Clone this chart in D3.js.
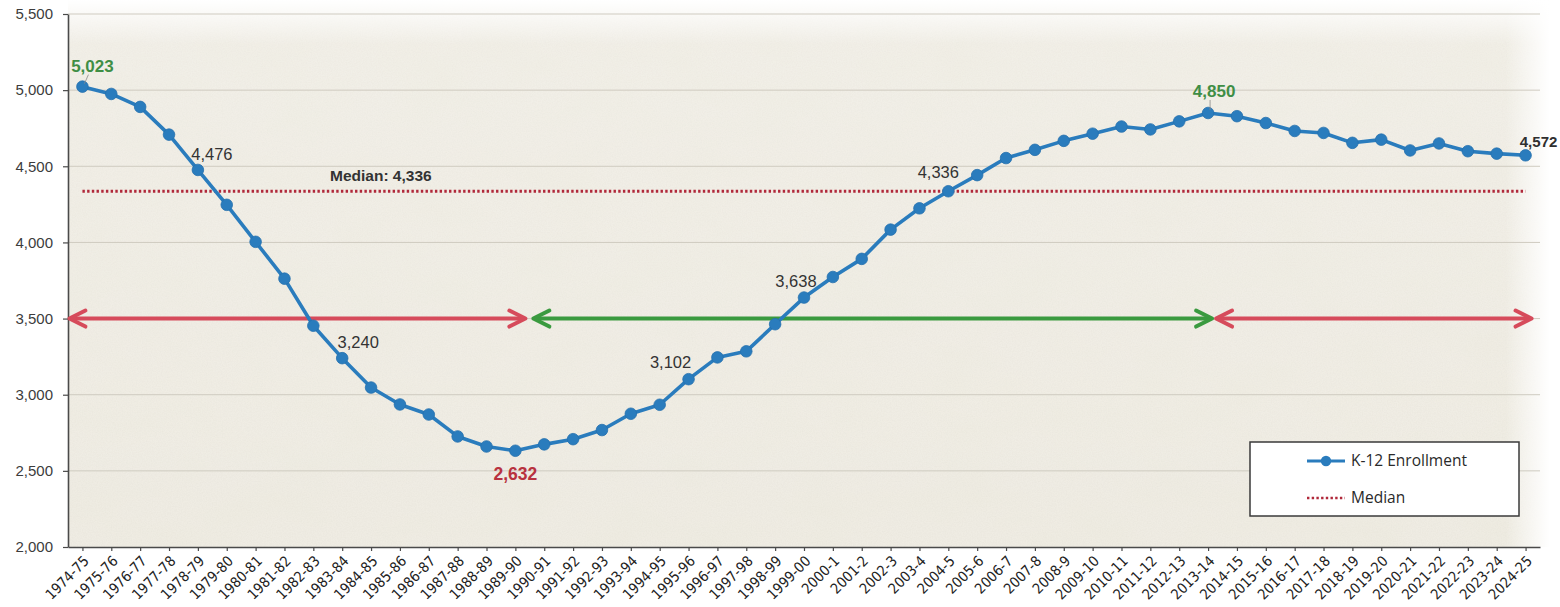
<!DOCTYPE html>
<html>
<head>
<meta charset="utf-8">
<script src="https://cdn.jsdelivr.net/npm/d3@7"></script>
<style>
  html, body { margin: 0; padding: 0; background: #ffffff; }
  svg { display: block; }
</style>
</head>
<body>
<svg id="chart" width="1560" height="607"></svg>
<script>
// School years on the category axis
const years = [
  "1974-75","1975-76","1976-77","1977-78","1978-79","1979-80","1980-81","1981-82",
  "1982-83","1983-84","1984-85","1985-86","1986-87","1987-88","1988-89","1989-90",
  "1990-91","1991-92","1992-93","1993-94","1994-95","1995-96","1996-97","1997-98",
  "1998-99","1999-00","2000-1","2001-2","2002-3","2003-4","2004-5","2005-6",
  "2006-7","2007-8","2008-9","2009-10","2010-11","2011-12","2012-13","2013-14",
  "2014-15","2015-16","2016-17","2017-18","2018-19","2019-20","2020-21","2021-22",
  "2022-23","2023-24","2024-25"
];

// K-12 enrollment for each school year
const enrollment = [
  5023, 4975, 4890, 4708, 4476, 4247, 4004, 3762,
  3453, 3240, 3047, 2936, 2870, 2726, 2660, 2632,
  2674, 2708, 2768, 2875, 2934, 3102, 3245, 3285,
  3463, 3638, 3773, 3892, 4084, 4224, 4336, 4442,
  4554, 4608, 4667, 4714, 4761, 4742, 4795, 4850,
  4829, 4784, 4732, 4719, 4654, 4675, 4604, 4650,
  4599, 4583, 4572
];

const medianValue = 4336;

// Value axis ticks
const yTicks = [2000, 2500, 3000, 3500, 4000, 4500, 5000, 5500];

// Years whose values are written next to the line, and how
const labelledYears = ["1974-75","1978-79","1983-84","1989-90","1995-96","1999-00","2004-5","2013-14","2024-25"];
const labelKinds    = ["high","plain","plain","low","plain","plain","plain","high","last"];

// Trend periods marked by arrows at the 3,500 level
const periodFrom  = ["1974-75","1989-90","2013-14"];
const periodTo    = ["1989-90","2013-14","2024-25"];
const periodTrend = ["down","up","down"];
const arrowLevel = 3500;

// ---------------------------------------------------------------
const svg = d3.select("#chart");
const plot = { left: 68, right: 1540, top: 14, bottom: 547 };

const x = d3.scalePoint().domain(years).range([plot.left, plot.right]).padding(0.5);
const y = d3.scaleLinear().domain([2000, 5500]).range([plot.bottom, plot.top]);

const defs = svg.append("defs");

// paper-like grain over the plot area
const grain = defs.append("filter").attr("id", "grain")
  .attr("x", 0).attr("y", 0).attr("width", "100%").attr("height", "100%");
grain.append("feTurbulence").attr("type", "fractalNoise")
  .attr("baseFrequency", "0.8").attr("numOctaves", 2).attr("seed", 7).attr("result", "fine");
grain.append("feColorMatrix").attr("in", "fine").attr("type", "matrix")
  .attr("values", "0 0 0 0 0.60  0 0 0 0 0.58  0 0 0 0 0.50  0 0 0 0.5 -0.17").attr("result", "fineA");
grain.append("feTurbulence").attr("type", "fractalNoise")
  .attr("baseFrequency", "0.015 0.025").attr("numOctaves", 3).attr("seed", 3).attr("result", "coarse");
grain.append("feColorMatrix").attr("in", "coarse").attr("type", "matrix")
  .attr("values", "0 0 0 0 0.80  0 0 0 0 0.78  0 0 0 0 0.66  0 0 0 0.7 -0.28").attr("result", "coarseA");
const merge = grain.append("feMerge");
merge.append("feMergeNode").attr("in", "coarseA");
merge.append("feMergeNode").attr("in", "fineA");

const fade = defs.append("linearGradient").attr("id", "fadeTop")
  .attr("x1", 0).attr("y1", 0).attr("x2", 0).attr("y2", 1);
fade.append("stop").attr("offset", "0").attr("stop-color", "#ffffff").attr("stop-opacity", 1);
fade.append("stop").attr("offset", "0.08").attr("stop-color", "#ffffff").attr("stop-opacity", 0.15);
fade.append("stop").attr("offset", "1").attr("stop-color", "#ffffff").attr("stop-opacity", 0);

const fadeR = defs.append("linearGradient").attr("id", "fadeRight")
  .attr("x1", 0).attr("y1", 0).attr("x2", 1).attr("y2", 0);
fadeR.append("stop").attr("offset", "0.97").attr("stop-color", "#ffffff").attr("stop-opacity", 0);
fadeR.append("stop").attr("offset", "1").attr("stop-color", "#ffffff").attr("stop-opacity", 1);

// plot background
const bg = svg.append("g");
const bgX = plot.left, bgY = 0, bgW = plot.right + 10 - plot.left, bgH = plot.bottom - bgY;
bg.append("rect").attr("x", bgX).attr("y", bgY).attr("width", bgW).attr("height", bgH)
  .attr("fill", "#efece3");
bg.append("rect").attr("x", bgX).attr("y", bgY).attr("width", bgW).attr("height", bgH)
  .attr("filter", "url(#grain)").attr("opacity", 0.45);
bg.append("rect").attr("x", bgX).attr("y", bgY).attr("width", bgW).attr("height", bgH)
  .attr("fill", "url(#fadeTop)");
bg.append("rect").attr("x", bgX).attr("y", bgY).attr("width", bgW).attr("height", bgH)
  .attr("fill", "url(#fadeRight)");

// gridlines
svg.append("g").selectAll("line").data(yTicks.filter(d => d > 2000)).join("line")
  .attr("x1", plot.left).attr("x2", plot.right)
  .attr("y1", d => y(d)).attr("y2", d => y(d))
  .attr("stroke", "#cfcbc0").attr("stroke-width", 1);

// axes
const yAxis = svg.append("g").attr("transform", `translate(${plot.left},0)`)
  .call(d3.axisLeft(y).tickValues(yTicks).tickFormat(d3.format(",")).tickSize(5).tickSizeOuter(0));
yAxis.select(".domain").attr("stroke", "#4a4a4a").attr("stroke-width", 1.6);
yAxis.selectAll(".tick line").attr("stroke", "#4a4a4a").attr("stroke-width", 1.2);
yAxis.selectAll(".tick text")
  .attr("x", -15)
  .attr("font-family", "'Liberation Sans', Arial, sans-serif")
  .attr("font-size", 15).attr("fill", "#3c3c3c");

const xAxis = svg.append("g").attr("transform", `translate(0,${plot.bottom})`)
  .call(d3.axisBottom(x).tickSize(4).tickSizeOuter(0));
xAxis.select(".domain").attr("stroke", "#4a4a4a").attr("stroke-width", 1.6);
xAxis.selectAll(".tick line").attr("stroke", "#4a4a4a").attr("stroke-width", 1.2);
xAxis.selectAll(".tick text")
  .attr("text-anchor", "end")
  .attr("x", 0).attr("y", 0).attr("dy", 0)
  .attr("transform", "translate(7,15) rotate(-45)")
  .attr("font-family", "'Liberation Sans Narrow', 'Arial Narrow', 'DejaVu Sans Condensed', sans-serif")
  .attr("font-size", 14.5).attr("fill", "#222222");

// median reference line
svg.append("line")
  .attr("x1", x(years[0])).attr("x2", x(years[years.length - 1]))
  .attr("y1", y(medianValue)).attr("y2", y(medianValue))
  .attr("stroke", "#b0283a").attr("stroke-width", 2.8)
  .attr("stroke-dasharray", "2.4 2.3");

svg.append("text")
  .attr("x", 330).attr("y", y(medianValue) - 10)
  .attr("font-family", "'Liberation Sans', Arial, sans-serif")
  .attr("font-weight", "bold").attr("font-size", 15.5).attr("fill", "#333333")
  .text("Median: " + d3.format(",")(medianValue));

// trend arrows
const arrowColor = { down: "#d64b5b", up: "#3a9a3f" };
// pixel pads at each arrow end (start pad, end pad)
const arrowPads = [[-13, 10], [18, 4], [8, 6]];
const ay = y(arrowLevel);
const arrows = svg.append("g").attr("fill", "none").attr("stroke-linecap", "round").attr("stroke-linejoin", "round");
periodFrom.forEach((from, i) => {
  const x0 = x(from) + arrowPads[i][0];
  const x1 = x(periodTo[i]) + arrowPads[i][1];
  const c = arrowColor[periodTrend[i]];
  const g = arrows.append("g").attr("stroke", c).attr("stroke-width", 4);
  g.append("line").attr("x1", x0 + 2).attr("x2", x1 - 2).attr("y1", ay).attr("y2", ay);
  g.append("path").attr("d", `M${x0 + 16},${ay - 8} L${x0},${ay} L${x0 + 16},${ay + 8}`);
  g.append("path").attr("d", `M${x1 - 16},${ay - 8} L${x1},${ay} L${x1 - 16},${ay + 8}`);
});

// enrollment line and markers
const lineColor = "#2a7cbd";
const series = years.map((yr, i) => ({ year: yr, value: enrollment[i] }));
svg.append("path").datum(series)
  .attr("fill", "none").attr("stroke", lineColor).attr("stroke-width", 3.6)
  .attr("stroke-linejoin", "round")
  .attr("d", d3.line().x(d => x(d.year)).y(d => y(d.value)));
svg.append("g").selectAll("circle").data(series).join("circle")
  .attr("cx", d => x(d.year)).attr("cy", d => y(d.value)).attr("r", 5.8)
  .attr("fill", lineColor).attr("stroke", "#2470ad").attr("stroke-width", 0.8);

// value labels
const labelStyle = {
  high:  { color: "#3f8e45", weight: "bold",   size: 17 },
  low:   { color: "#b8323f", weight: "bold",   size: 17.5 },
  plain: { color: "#333333", weight: "normal", size: 16.5 },
  last:  { color: "#2f2f2f", weight: "bold",   size: 15 }
};
const labelOffsets = {
  "1974-75": [10, -15], "1978-79": [14, -10], "1983-84": [16, -10], "1989-90": [0, 29],
  "1995-96": [-18, -11], "1999-00": [-8, -11], "2004-5": [-10, -13], "2013-14": [6, -16],
  "2024-25": [13, -8]
};
const lab = svg.append("g").attr("font-family", "'Liberation Sans', Arial, sans-serif")
  .attr("text-anchor", "middle");
labelledYears.forEach((yr, i) => {
  const v = enrollment[years.indexOf(yr)];
  const st = labelStyle[labelKinds[i]];
  const off = labelOffsets[yr];
  const px = x(yr), py = y(v);
  if (labelKinds[i] === "high") {
    lab.append("line")
      .attr("x1", px + 2).attr("y1", py - 3)
      .attr("x2", px + off[0] - 4).attr("y2", py + off[1] + 3)
      .attr("stroke", "#8a8a8a").attr("stroke-width", 0.8);
  }
  lab.append("text")
    .attr("x", px + off[0]).attr("y", py + off[1])
    .attr("font-size", st.size).attr("font-weight", st.weight).attr("fill", st.color)
    .text(d3.format(",")(v));
});

// legend
const lg = svg.append("g").attr("transform", "translate(1250,442)");
lg.append("rect").attr("width", 269).attr("height", 74)
  .attr("fill", "#ffffff").attr("stroke", "#3a3a3a").attr("stroke-width", 1.5);
lg.append("line").attr("x1", 57).attr("x2", 95).attr("y1", 19).attr("y2", 19)
  .attr("stroke", lineColor).attr("stroke-width", 3.2);
lg.append("circle").attr("cx", 76).attr("cy", 19).attr("r", 5.2).attr("fill", lineColor);
lg.append("line").attr("x1", 57).attr("x2", 95).attr("y1", 56).attr("y2", 56)
  .attr("stroke", "#b0283a").attr("stroke-width", 2.6).attr("stroke-dasharray", "2.4 2.3");
lg.append("g").attr("font-family", "'Open Sans', 'Liberation Sans', sans-serif")
  .attr("font-size", 15.5).attr("fill", "#2a2a2a")
  .selectAll("text").data(["K-12 Enrollment", "Median"]).join("text")
  .attr("x", 101).attr("y", (d, i) => (i === 0 ? 19 : 56)).attr("dy", "0.35em")
  .text(d => d);
</script>
</body>
</html>
